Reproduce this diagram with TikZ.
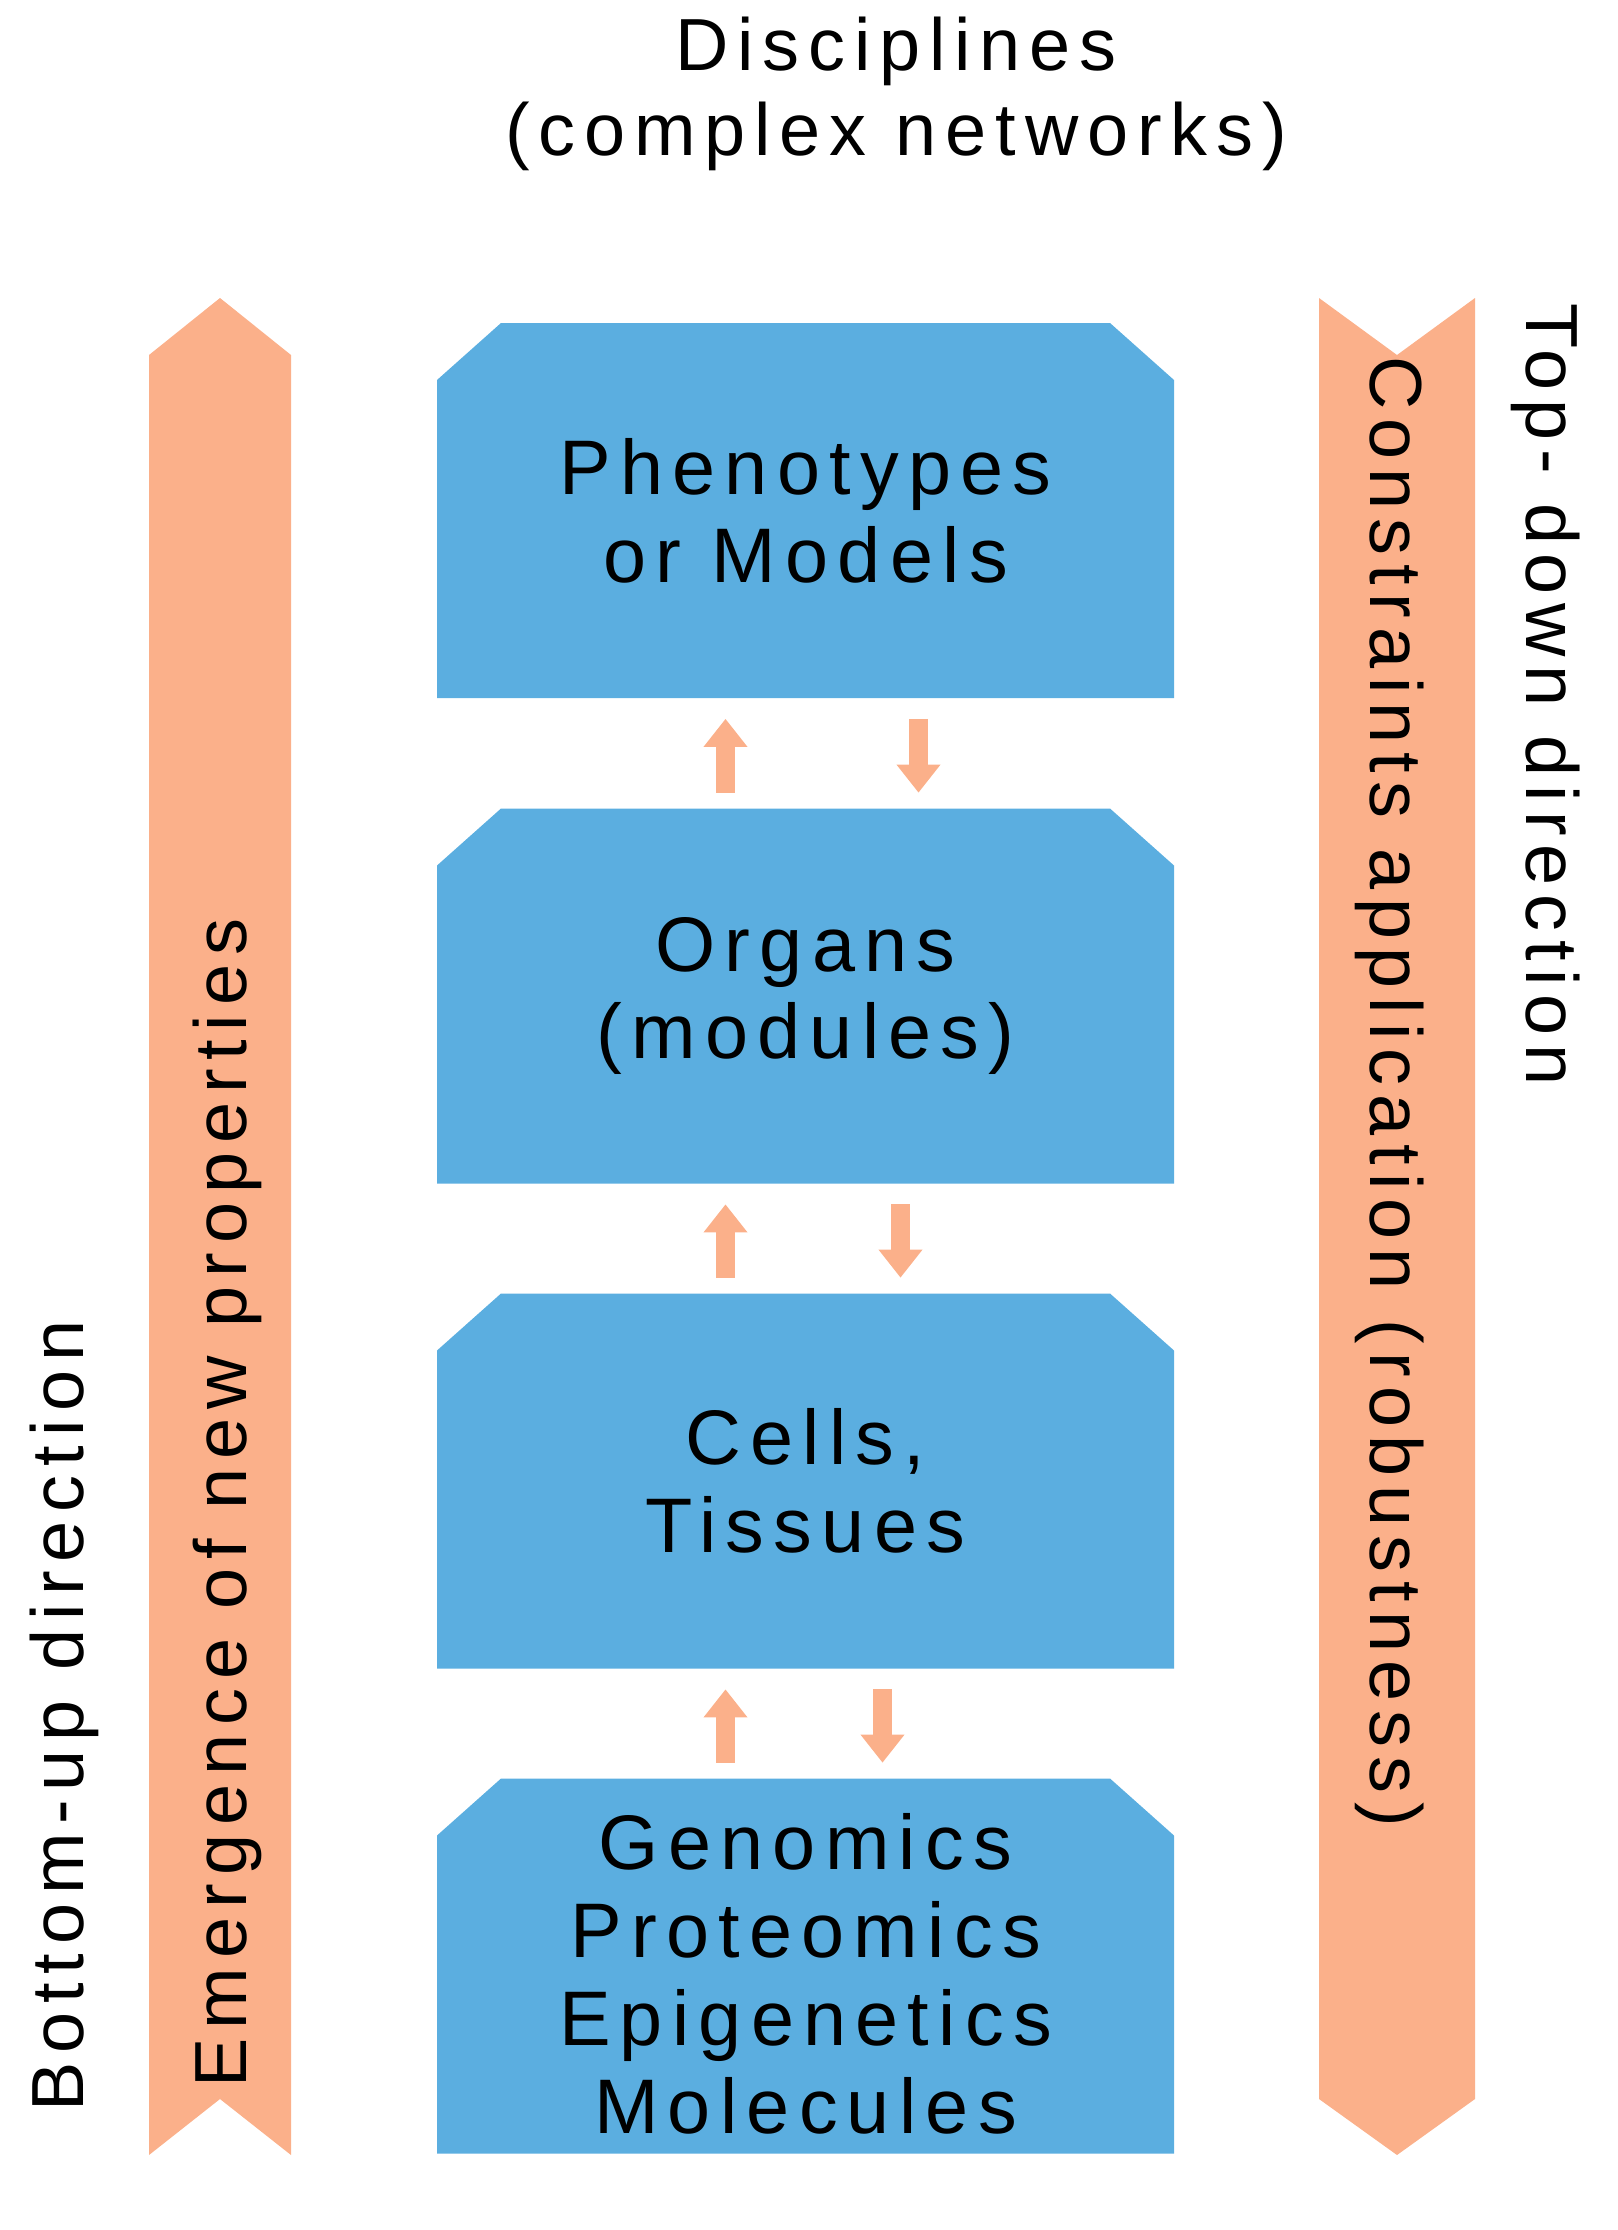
\documentclass[tikz,border=0pt]{standalone}
\usepackage{fontspec}
\setmainfont{Liberation Sans}[LetterSpace=12]
\usepackage{xcolor}
\usetikzlibrary{positioning,calc,arrows.meta}
\definecolor{boxblue}{HTML}{5BAEE0}
\definecolor{bandorange}{HTML}{FBB08A}
\newcommand{\boite}[2]{%
  \fill[boxblue] (437,#2+187.5) -- (437,#2-130.5) -- (501,#2-187.5) -- (1110,#2-187.5)
    -- (1174,#2-130.5) -- (1174,#2+187.5) -- cycle;
  \node[niveau] (#1) at (805.5,#2) {};}
\begin{document}
\begin{tikzpicture}[x=0.01cm,y=-0.01cm]

\tikzstyle{niveau}=[rectangle, minimum width=7.37cm, minimum height=3.75cm, inner sep=0pt]
\tikzstyle{texte}=[align=center, font=\fontsize{22}{25}\selectfont]
\tikzstyle{bande}=[fill=bandorange]
\tikzstyle{legende}=[font=\fontsize{21}{24}\selectfont, align=center]
\tikzstyle{petite}=[-{Triangle[width=12pt,length=8pt]}, line width=5.5pt, draw=bandorange]

\useasboundingbox (0,0) rectangle (1617,2230);

%placement des bandes
\fill[bande] (149,355) -- (220,298) -- (291,355) -- (291,2155) -- (220,2099) -- (149,2155) -- cycle;
\fill[bande] (1319,298) -- (1397,355) -- (1475,298) -- (1475,2099) -- (1397,2155) -- (1319,2099) -- cycle;

%placement des nœuds
\node[legende] (titre) at (896,94) {Disciplines\\(complex networks)};
\boite{pheno}{510.5}
\boite{organs}{996}
\boite{cells}{1481}
\boite{genom}{1966}
\node[texte] at (pheno) {Phenotypes\\or Models};
\node[texte] at (organs) {Organs\\(modules)};
\node[texte] at (cells) {Cells,\\Tissues};
\node[texte] at ($(genom)+(0,8)$) {Genomics\\Proteomics\\Epigenetics\\Molecules};
\node[legende, rotate=90] (emerg) at (227,1503) {Emergence of new properties};
\node[legende, rotate=90] (bottom) at (64,1716) {Bottom-up direction};
\node[legende, rotate=-90] (constr) at (1390,1092) {Constraints application (robustness)};
\node[legende, rotate=-90] (topdown) at (1546,695) {Top- down direction};

%Placement des flèches
\draw[petite] ($(organs.north)+(-80,-15)$) -- ($(pheno.south)+(-80,20)$);
\draw[petite] ($(pheno.south)+(113,20)$) -- ($(organs.north)+(113,-15)$);
\draw[petite] ($(cells.north)+(-80,-15)$) -- ($(organs.south)+(-80,20)$);
\draw[petite] ($(organs.south)+(95,20)$) -- ($(cells.north)+(95,-15)$);
\draw[petite] ($(genom.north)+(-80,-15)$) -- ($(cells.south)+(-80,20)$);
\draw[petite] ($(cells.south)+(77,20)$) -- ($(genom.north)+(77,-15)$);
\end{tikzpicture}
\end{document}
